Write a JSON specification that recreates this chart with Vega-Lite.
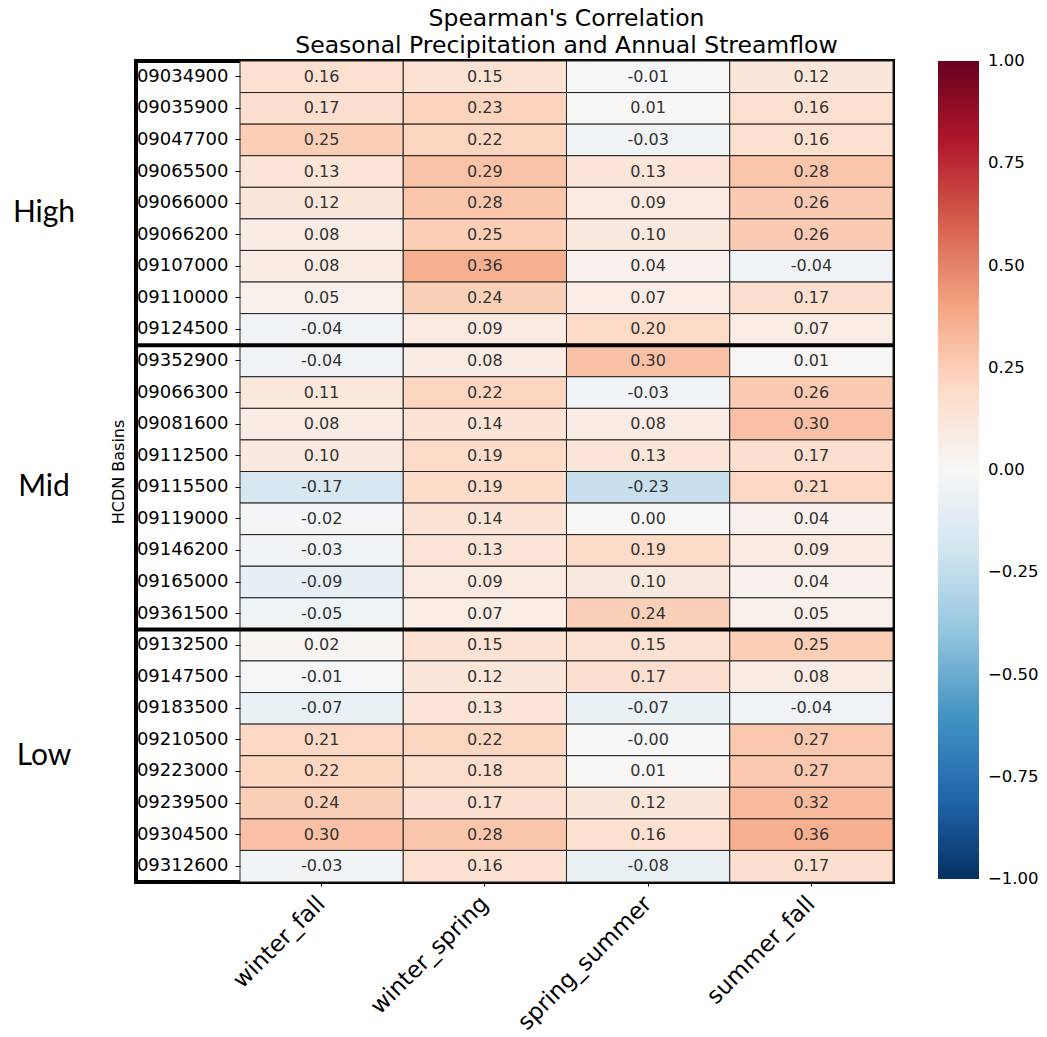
{
  "$schema": "https://vega.github.io/schema/vega-lite/v6.json",
  "autosize": "none",
  "width": 757,
  "height": 821,
  "padding": {"left": 136, "top": 61, "right": 154, "bottom": 155},
  "background": "white",
  "title": {
    "text": ["Spearman's Correlation", "Seasonal Precipitation and Annual Streamflow"],
    "font": "DejaVu Sans", "fontSize": 23.5, "fontWeight": "normal", "color": "black",
    "anchor": "middle", "frame": "group", "dx": 52, "offset": 3, "lineHeight": 27
  },
  "config": {
    "font": "DejaVu Sans",
    "view": {"stroke": "black", "strokeWidth": 4},
    "legend": {"gradientVerticalMaxLength": 1000}
  },
  "data": {"values": [
    {"basin":"09034900","season":"winter_fall","value":0.16},{"basin":"09034900","season":"winter_spring","value":0.15},{"basin":"09034900","season":"spring_summer","value":-0.01},{"basin":"09034900","season":"summer_fall","value":0.12},
    {"basin":"09035900","season":"winter_fall","value":0.17},{"basin":"09035900","season":"winter_spring","value":0.23},{"basin":"09035900","season":"spring_summer","value":0.01},{"basin":"09035900","season":"summer_fall","value":0.16},
    {"basin":"09047700","season":"winter_fall","value":0.25},{"basin":"09047700","season":"winter_spring","value":0.22},{"basin":"09047700","season":"spring_summer","value":-0.03},{"basin":"09047700","season":"summer_fall","value":0.16},
    {"basin":"09065500","season":"winter_fall","value":0.13},{"basin":"09065500","season":"winter_spring","value":0.29},{"basin":"09065500","season":"spring_summer","value":0.13},{"basin":"09065500","season":"summer_fall","value":0.28},
    {"basin":"09066000","season":"winter_fall","value":0.12},{"basin":"09066000","season":"winter_spring","value":0.28},{"basin":"09066000","season":"spring_summer","value":0.09},{"basin":"09066000","season":"summer_fall","value":0.26},
    {"basin":"09066200","season":"winter_fall","value":0.08},{"basin":"09066200","season":"winter_spring","value":0.25},{"basin":"09066200","season":"spring_summer","value":0.10},{"basin":"09066200","season":"summer_fall","value":0.26},
    {"basin":"09107000","season":"winter_fall","value":0.08},{"basin":"09107000","season":"winter_spring","value":0.36},{"basin":"09107000","season":"spring_summer","value":0.04},{"basin":"09107000","season":"summer_fall","value":-0.04},
    {"basin":"09110000","season":"winter_fall","value":0.05},{"basin":"09110000","season":"winter_spring","value":0.24},{"basin":"09110000","season":"spring_summer","value":0.07},{"basin":"09110000","season":"summer_fall","value":0.17},
    {"basin":"09124500","season":"winter_fall","value":-0.04},{"basin":"09124500","season":"winter_spring","value":0.09},{"basin":"09124500","season":"spring_summer","value":0.20},{"basin":"09124500","season":"summer_fall","value":0.07},
    {"basin":"09352900","season":"winter_fall","value":-0.04},{"basin":"09352900","season":"winter_spring","value":0.08},{"basin":"09352900","season":"spring_summer","value":0.30},{"basin":"09352900","season":"summer_fall","value":0.01},
    {"basin":"09066300","season":"winter_fall","value":0.11},{"basin":"09066300","season":"winter_spring","value":0.22},{"basin":"09066300","season":"spring_summer","value":-0.03},{"basin":"09066300","season":"summer_fall","value":0.26},
    {"basin":"09081600","season":"winter_fall","value":0.08},{"basin":"09081600","season":"winter_spring","value":0.14},{"basin":"09081600","season":"spring_summer","value":0.08},{"basin":"09081600","season":"summer_fall","value":0.30},
    {"basin":"09112500","season":"winter_fall","value":0.10},{"basin":"09112500","season":"winter_spring","value":0.19},{"basin":"09112500","season":"spring_summer","value":0.13},{"basin":"09112500","season":"summer_fall","value":0.17},
    {"basin":"09115500","season":"winter_fall","value":-0.17},{"basin":"09115500","season":"winter_spring","value":0.19},{"basin":"09115500","season":"spring_summer","value":-0.23},{"basin":"09115500","season":"summer_fall","value":0.21},
    {"basin":"09119000","season":"winter_fall","value":-0.02},{"basin":"09119000","season":"winter_spring","value":0.14},{"basin":"09119000","season":"spring_summer","value":0.00},{"basin":"09119000","season":"summer_fall","value":0.04},
    {"basin":"09146200","season":"winter_fall","value":-0.03},{"basin":"09146200","season":"winter_spring","value":0.13},{"basin":"09146200","season":"spring_summer","value":0.19},{"basin":"09146200","season":"summer_fall","value":0.09},
    {"basin":"09165000","season":"winter_fall","value":-0.09},{"basin":"09165000","season":"winter_spring","value":0.09},{"basin":"09165000","season":"spring_summer","value":0.10},{"basin":"09165000","season":"summer_fall","value":0.04},
    {"basin":"09361500","season":"winter_fall","value":-0.05},{"basin":"09361500","season":"winter_spring","value":0.07},{"basin":"09361500","season":"spring_summer","value":0.24},{"basin":"09361500","season":"summer_fall","value":0.05},
    {"basin":"09132500","season":"winter_fall","value":0.02},{"basin":"09132500","season":"winter_spring","value":0.15},{"basin":"09132500","season":"spring_summer","value":0.15},{"basin":"09132500","season":"summer_fall","value":0.25},
    {"basin":"09147500","season":"winter_fall","value":-0.01},{"basin":"09147500","season":"winter_spring","value":0.12},{"basin":"09147500","season":"spring_summer","value":0.17},{"basin":"09147500","season":"summer_fall","value":0.08},
    {"basin":"09183500","season":"winter_fall","value":-0.07},{"basin":"09183500","season":"winter_spring","value":0.13},{"basin":"09183500","season":"spring_summer","value":-0.07},{"basin":"09183500","season":"summer_fall","value":-0.04},
    {"basin":"09210500","season":"winter_fall","value":0.21},{"basin":"09210500","season":"winter_spring","value":0.22},{"basin":"09210500","season":"spring_summer","value":-0.001},{"basin":"09210500","season":"summer_fall","value":0.27},
    {"basin":"09223000","season":"winter_fall","value":0.22},{"basin":"09223000","season":"winter_spring","value":0.18},{"basin":"09223000","season":"spring_summer","value":0.01},{"basin":"09223000","season":"summer_fall","value":0.27},
    {"basin":"09239500","season":"winter_fall","value":0.24},{"basin":"09239500","season":"winter_spring","value":0.17},{"basin":"09239500","season":"spring_summer","value":0.12},{"basin":"09239500","season":"summer_fall","value":0.32},
    {"basin":"09304500","season":"winter_fall","value":0.30},{"basin":"09304500","season":"winter_spring","value":0.28},{"basin":"09304500","season":"spring_summer","value":0.16},{"basin":"09304500","season":"summer_fall","value":0.36},
    {"basin":"09312600","season":"winter_fall","value":-0.03},{"basin":"09312600","season":"winter_spring","value":0.16},{"basin":"09312600","season":"spring_summer","value":-0.08},{"basin":"09312600","season":"summer_fall","value":0.17}
  ]},
  "encoding": {
    "y": {
      "field": "basin", "type": "nominal",
      "scale": {
        "domain": ["09034900","09035900","09047700","09065500","09066000","09066200","09107000","09110000","09124500","09352900","09066300","09081600","09112500","09115500","09119000","09146200","09165000","09361500","09132500","09147500","09183500","09210500","09223000","09239500","09304500","09312600"],
        "paddingInner": 0, "paddingOuter": 0
      },
      "axis": {
        "orient": "left", "offset": -104, "domain": false,
        "labelFont": "DejaVu Sans", "labelFontSize": 18, "labelColor": "black", "labelPadding": 7,
        "ticks": true, "tickSize": 5, "tickColor": "black", "tickWidth": 1,
        "title": "HCDN Basins", "titleFont": "DejaVu Sans", "titleFontSize": 16, "titleFontWeight": "normal", "titleColor": "black", "titlePadding": 10
      }
    }
  },
  "layer": [
    {
      "mark": {"type": "rect", "stroke": "#222222", "strokeWidth": 1},
      "encoding": {
        "x": {
          "field": "season", "type": "nominal",
          "scale": {"domain": ["winter_fall","winter_spring","spring_summer","summer_fall"], "paddingInner": 0, "paddingOuter": 0.3185, "align": 1},
          "axis": {
            "title": null, "domain": false, "labelAngle": -45, "labelAlign": "right", "labelBaseline": "top",
            "labelFont": "DejaVu Sans", "labelFontSize": 23, "labelColor": "black", "labelPadding": 6, "labelOffset": -8,
            "labelLimit": 0, "labelOverlap": false,
            "tickSize": 4, "tickColor": "black"
          }
        },
        "color": {
          "field": "value", "type": "quantitative",
          "scale": {
            "domain": [-1,-0.8,-0.6,-0.4,-0.2,0,0.2,0.4,0.6,0.8,1],
            "range": ["#053061","#2166ac","#4393c3","#92c5de","#d1e5f0","#f7f7f7","#fddbc7","#f4a582","#d6604d","#b2182b","#67001f"],
            "interpolate": "rgb"
          },
          "legend": {
            "orient": "right", "offset": 45, "direction": "vertical", "title": null,
            "gradientLength": 818, "gradientThickness": 41, "gradientStrokeWidth": 0,
            "values": [-1,-0.75,-0.5,-0.25,0,0.25,0.5,0.75,1], "format": ".2f",
            "labelFont": "DejaVu Sans", "labelFontSize": 16.5, "labelColor": "black", "labelOffset": 9,
            "labelOverlap": false,
            "encode": {"labels": {"update": {"baseline": {"value": "middle"}}}}
          }
        }
      }
    },
    {
      "transform": [{"calculate": "(datum.value < 0 ? '-' : '') + format(abs(datum.value), '.2f')", "as": "label"}],
      "mark": {"type": "text", "font": "DejaVu Sans", "fontSize": 16, "color": "#333333", "align": "center", "baseline": "middle"},
      "encoding": {
        "x": {"field": "season", "type": "nominal"},
        "text": {"field": "label", "type": "nominal"}
      }
    },
    {
      "data": {"values": [{"basin": "09352900"}, {"basin": "09132500"}]},
      "mark": {"type": "rule", "color": "black", "strokeWidth": 4},
      "encoding": {"y": {"field": "basin", "type": "nominal", "bandPosition": 0}}
    },
    {
      "data": {"values": [{"group": "High", "basin": "09066000"}]},
      "mark": {"type": "text", "font": "Lato", "fontSize": 30, "color": "black", "align": "center", "baseline": "middle", "x": -92},
      "encoding": {"y": {"field": "basin", "type": "nominal", "bandPosition": 0.8}, "text": {"field": "group"}}
    },
    {
      "data": {"values": [{"group": "Mid", "basin": "09115500"}]},
      "mark": {"type": "text", "font": "Lato", "fontSize": 30, "color": "black", "align": "center", "baseline": "middle", "x": -92},
      "encoding": {"y": {"field": "basin", "type": "nominal", "bandPosition": 0.5}, "text": {"field": "group"}}
    },
    {
      "data": {"values": [{"group": "Low", "basin": "09223000"}]},
      "mark": {"type": "text", "font": "Lato", "fontSize": 30, "color": "black", "align": "center", "baseline": "middle", "x": -92},
      "encoding": {"y": {"field": "basin", "type": "nominal", "bandPosition": 0}, "text": {"field": "group"}}
    }
  ]
}
